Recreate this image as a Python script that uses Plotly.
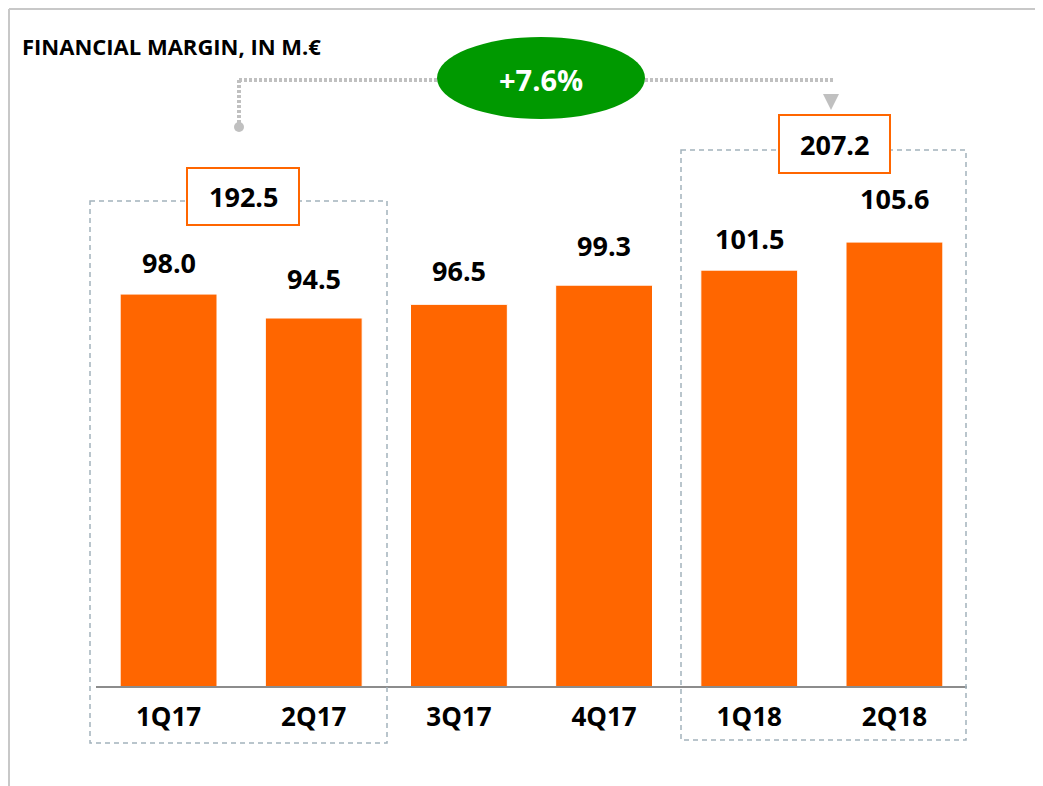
import plotly.graph_objects as go

# ---- data ----
categories = ["1Q17", "2Q17", "3Q17", "4Q17", "1Q18", "2Q18"]
values = [98.0, 94.5, 96.5, 99.3, 101.5, 105.6]
period_totals = [192.5, 207.2]
growth_label = "+7.6%"
title_text = "FINANCIAL MARGIN, IN M.€"

# ---- layout geometry (page pixels; page body has an 8px margin) ----
OFF = 8
W, H = 1043 - OFF, 786 - OFF
L, R, T, B = 96, 967, 100, 686          # plot area in page pixels
PW, PH = R - L, B - T
Y0 = 40.7
PX_PER_UNIT = 6.84
y_top = Y0 + PH / PX_PER_UNIT

ORANGE = "#FF6600"
GREEN = "#009900"
GRAY_DOT = "#c0c0c0"
DASH_GRAY = "#a3b2bc"
FONT = "Open Sans"


def px(x):
    return (x - L) / PW


def py(y):
    return (B - y) / PH


fig = go.Figure()
fig.add_trace(go.Bar(
    x=categories, y=values,
    marker=dict(color=ORANGE, line=dict(color="white", width=1)),
    width=0.667, hoverinfo="skip",
))

shapes = []
ann = []

# outer frame (top + left)
shapes.append(dict(type="line", xref="paper", yref="paper", x0=px(9), x1=px(1043), y0=py(9), y1=py(9),
                   line=dict(color="#c8c8c8", width=2)))
shapes.append(dict(type="line", xref="paper", yref="paper", x0=px(9), x1=px(9), y0=py(9), y1=py(786),
                   line=dict(color="#c8c8c8", width=2)))

# dashed grouping rectangles
for (x0, y0, x1, y1) in [(90, 201, 387, 743), (681, 150, 966, 740)]:
    shapes.append(dict(type="rect", xref="paper", yref="paper", x0=px(x0), x1=px(x1), y0=py(y0), y1=py(y1),
                       line=dict(color=DASH_GRAY, width=1.5, dash="5px,4px"), fillcolor="rgba(0,0,0,0)"))

# total boxes
boxes = [(187, 168, 299, 225), (779, 115, 890, 173)]
for (x0, y0, x1, y1), tot in zip(boxes, period_totals):
    shapes.append(dict(type="rect", xref="paper", yref="paper", x0=px(x0), x1=px(x1), y0=py(y0), y1=py(y1),
                       line=dict(color=ORANGE, width=2), fillcolor="white"))
    ann.append(dict(xref="paper", yref="paper", x=px((x0 + x1) / 2), y=py((y0 + y1) / 2),
                    text=f"<b>{tot:.1f}</b>", showarrow=False, xanchor="center", yanchor="middle",
                    font=dict(family=FONT, size=27, color="black")))

# dotted connector
dot_line = dict(color=GRAY_DOT, width=4, dash="3px,2px")
shapes.append(dict(type="line", xref="paper", yref="paper", x0=px(239), x1=px(239), y0=py(80), y1=py(124), line=dot_line))
shapes.append(dict(type="line", xref="paper", yref="paper", x0=px(239), x1=px(437), y0=py(80), y1=py(80), line=dot_line))
shapes.append(dict(type="line", xref="paper", yref="paper", x0=px(645), x1=px(833), y0=py(80), y1=py(80), line=dot_line))
shapes.append(dict(type="circle", xref="paper", yref="paper", x0=px(234), x1=px(244), y0=py(122), y1=py(132),
                   fillcolor=GRAY_DOT, line=dict(width=0)))
shapes.append(dict(type="path", xref="paper", yref="paper",
                   path=f"M {px(823)} {py(94)} L {px(839)} {py(94)} L {px(831)} {py(110)} Z",
                   fillcolor=GRAY_DOT, line=dict(width=0)))

# green ellipse
shapes.append(dict(type="circle", xref="paper", yref="paper", x0=px(437), x1=px(645), y0=py(37), y1=py(119),
                   fillcolor=GREEN, line=dict(width=0)))
ann.append(dict(xref="paper", yref="paper", x=px(541), y=py(80), text=f"<b>{growth_label}</b>", showarrow=False,
                xanchor="center", yanchor="middle", font=dict(family=FONT, size=29, color="white")))

# title
ann.append(dict(xref="paper", yref="paper", x=px(20), y=py(46), text=f"<b>{title_text}</b>", showarrow=False,
                xanchor="left", yanchor="middle", font=dict(family=FONT, size=22, color="black")))

# value labels
label_shift = [32, 40, 34, 40, 32, 44]
for c, v, s in zip(categories, values, label_shift):
    ann.append(dict(xref="x", yref="y", x=c, y=v, yshift=s, text=f"<b>{v:.1f}</b>", showarrow=False,
                    xanchor="center", yanchor="middle", font=dict(family=FONT, size=27, color="black")))

fig.update_layout(
    width=W, height=H,
    margin=dict(l=L - OFF, r=W - (R - OFF), t=T - OFF, b=H - (B - OFF), pad=0),
    paper_bgcolor="white", plot_bgcolor="white",
    showlegend=False, bargap=0.333,
    shapes=shapes, annotations=ann,
    xaxis=dict(range=[-0.5, 5.5], showline=True, linecolor="#8c8c8c", linewidth=2,
               ticks="outside", ticklen=7, tickcolor="rgba(0,0,0,0)",
               tickfont=dict(family=FONT, size=26, color="black"),
               tickvals=categories, ticktext=[f"<b>{c}</b>" for c in categories],
               showgrid=False, zeroline=False, fixedrange=True),
    yaxis=dict(range=[Y0, y_top], visible=False, showgrid=False, zeroline=False, fixedrange=True),
)

fig.write_html("out.html")
